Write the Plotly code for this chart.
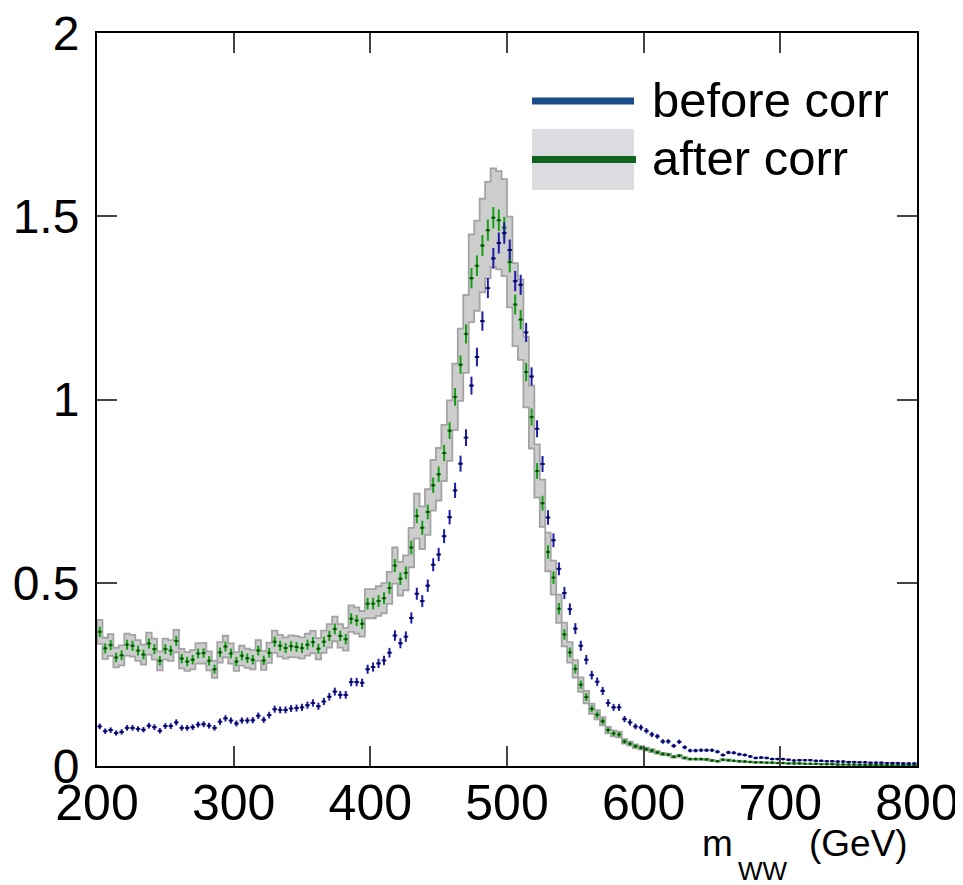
import numpy as np
import plotly.graph_objects as go

# m_WW binning: 150 bins of 4 GeV from 200 to 800
bin_edges = np.arange(200, 804, 4)
bin_centers = 0.5 * (bin_edges[:-1] + bin_edges[1:])

before_corr = [
    0.108, 0.095, 0.098, 0.090, 0.093, 0.104, 0.104, 0.101, 0.099, 0.110,
    0.106, 0.096, 0.109, 0.109, 0.119, 0.104, 0.104, 0.106, 0.113, 0.114,
    0.110, 0.104, 0.121, 0.130, 0.124, 0.116,
    0.124, 0.124, 0.125, 0.137, 0.126, 0.139, 0.155, 0.153, 0.153, 0.157,
    0.158, 0.160, 0.166, 0.172, 0.163, 0.176, 0.189, 0.203, 0.194, 0.194,
    0.229, 0.229, 0.227, 0.264,
    0.270, 0.280, 0.288, 0.309, 0.356, 0.335, 0.353, 0.404, 0.470, 0.450,
    0.492, 0.549, 0.577, 0.627, 0.679, 0.752, 0.825, 0.896, 1.038, 1.116,
    1.214, 1.304, 1.385,
    1.427, 1.454, 1.408, 1.323, 1.313, 1.183, 1.063, 0.920, 0.824, 0.678,
    0.616, 0.538, 0.472, 0.428, 0.375, 0.328, 0.290, 0.248, 0.230, 0.205,
    0.172, 0.160, 0.160, 0.128, 0.119, 0.108, 0.105,
    0.096, 0.086, 0.081, 0.067, 0.067, 0.055, 0.066, 0.051, 0.042, 0.042,
    0.043, 0.043, 0.043, 0.039, 0.030, 0.037, 0.036, 0.032, 0.030, 0.026,
    0.022, 0.023, 0.022, 0.019, 0.019, 0.019, 0.017, 0.015, 0.016, 0.016,
    0.016, 0.014, 0.014, 0.013, 0.013, 0.012, 0.012, 0.011, 0.011, 0.010,
    0.010, 0.009, 0.009, 0.009, 0.008, 0.008, 0.008, 0.007, 0.007, 0.007,
]

after_corr = [
    0.366, 0.321, 0.330, 0.296, 0.302, 0.331, 0.328, 0.315, 0.304, 0.334,
    0.319, 0.287, 0.319, 0.315, 0.341, 0.293, 0.285, 0.290, 0.307, 0.308,
    0.287, 0.264, 0.310, 0.326, 0.307, 0.285,
    0.301, 0.294, 0.290, 0.315, 0.288, 0.309, 0.339, 0.328, 0.322, 0.327,
    0.325, 0.322, 0.331, 0.338, 0.320, 0.339, 0.355, 0.374, 0.355, 0.346,
    0.402, 0.397, 0.388, 0.443,
    0.443, 0.450, 0.458, 0.486, 0.547, 0.511, 0.527, 0.596, 0.682, 0.650,
    0.693, 0.766, 0.796, 0.854, 0.915, 1.007, 1.095, 1.179, 1.331, 1.365,
    1.420, 1.462, 1.496, 1.489, 1.469, 1.375,
    1.259, 1.218, 1.075, 0.952, 0.805, 0.717, 0.584, 0.514, 0.429, 0.359,
    0.310, 0.265, 0.222, 0.188, 0.156, 0.140, 0.122, 0.098, 0.089, 0.086,
    0.067, 0.061, 0.054, 0.050,
    0.046, 0.042, 0.037, 0.033, 0.031, 0.025, 0.028, 0.022, 0.019, 0.019,
    0.019, 0.018, 0.015, 0.013, 0.017, 0.016, 0.014, 0.013, 0.012, 0.011,
    0.010, 0.010, 0.009, 0.009, 0.008, 0.008, 0.007, 0.007, 0.007, 0.006,
    0.006, 0.006, 0.005, 0.005, 0.005, 0.004, 0.004, 0.004, 0.004, 0.003,
    0.003, 0.003, 0.003, 0.003, 0.002, 0.002, 0.002, 0.002, 0.002, 0.002,
]

BAND_REL = 0.09     # relative size of the systematic band on "after corr"
STAT_SCALE = 0.024  # stat error ~ STAT_SCALE * sqrt(y)

x_ticks = [200, 300, 400, 500, 600, 700, 800]
y_ticks = [0, 0.5, 1, 1.5, 2]
y_ticklabels = ["0", "0.5", "1", "1.5", "2"]

before = np.array(before_corr)
after = np.array(after_corr)

# stepped band outline: upper edge left->right, lower edge right->left
band_hi = after * (1 + BAND_REL)
band_lo = after * (1 - BAND_REL)
bx, by = [], []
for i in range(len(after)):
    bx += [bin_edges[i], bin_edges[i + 1]]
    by += [band_hi[i], band_hi[i]]
for i in reversed(range(len(after))):
    bx += [bin_edges[i + 1], bin_edges[i]]
    by += [band_lo[i], band_lo[i]]
bx.append(bx[0])
by.append(by[0])

FONT = "Liberation Sans, Arial, Helvetica, sans-serif"
BLUE = "#1c1ca8"
GREEN = "#14a014"

fig = go.Figure()

fig.add_trace(go.Scatter(
    x=bx, y=by, mode="lines", fill="toself",
    fillcolor="#cdcdcd", line=dict(color="#a3a3a3", width=1.8),
    hoverinfo="skip", showlegend=False,
))

fig.add_trace(go.Scatter(
    x=bin_centers, y=after, mode="markers",
    marker=dict(color="#0a3a0a", size=2.5),
    error_x=dict(type="constant", value=1.7, color=GREEN, thickness=2, width=0),
    error_y=dict(type="data", array=STAT_SCALE * np.sqrt(after), color=GREEN, thickness=2, width=0),
    showlegend=False,
))

fig.add_trace(go.Scatter(
    x=bin_centers, y=before, mode="markers",
    marker=dict(color="#000040", size=2.5),
    error_x=dict(type="constant", value=1.7, color=BLUE, thickness=2, width=0),
    error_y=dict(type="data", array=STAT_SCALE * np.sqrt(before), color=BLUE, thickness=2, width=0),
    showlegend=False,
))

# the page body adds 8px around the figure; plot area wanted at page px 97..917 x 33..766
OFF = 8
L, R, T, B = 97, 917, 33, 766
W, H = 963 - OFF, 885 - OFF
def px(xp):
    return (xp - L) / (R - L)
def py(yp):
    return (B - yp) / (B - T)

shapes = [
    dict(type="rect", xref="paper", yref="paper", x0=px(532), x1=px(634), y0=py(190), y1=py(129),
         fillcolor="#dcdde0", line=dict(width=0), layer="above"),
    dict(type="line", xref="paper", yref="paper", x0=px(532), x1=px(634), y0=py(101), y1=py(101),
         line=dict(color="#1a4d8a", width=7), layer="above"),
    dict(type="line", xref="paper", yref="paper", x0=px(532), x1=px(636), y0=py(159.5), y1=py(159.5),
         line=dict(color="#10641e", width=7), layer="above"),
]

annotations = [
    dict(text="before corr", x=px(650), y=py(100), xref="paper", yref="paper",
         xanchor="left", yanchor="middle", showarrow=False, font=dict(size=49, color="black", family=FONT)),
    dict(text="after corr", x=px(650), y=py(158), xref="paper", yref="paper",
         xanchor="left", yanchor="middle", showarrow=False, font=dict(size=49, color="black", family=FONT)),
    dict(text="m", x=px(700), y=py(843), xref="paper", yref="paper",
         xanchor="left", yanchor="middle", showarrow=False, font=dict(size=37, color="black", family=FONT)),
    dict(text="WW", x=px(736), y=py(871), xref="paper", yref="paper",
         xanchor="left", yanchor="middle", showarrow=False, font=dict(size=26, color="black", family=FONT)),
    dict(text="(GeV)", x=px(910), y=py(843), xref="paper", yref="paper",
         xanchor="right", yanchor="middle", showarrow=False, font=dict(size=37, color="black", family=FONT)),
]

fig.update_layout(
    width=W, height=H,
    margin=dict(l=L - OFF, r=W - (R - OFF), t=T - OFF, b=H - (B - OFF), autoexpand=False),
    paper_bgcolor="white", plot_bgcolor="white",
    shapes=shapes, annotations=annotations,
    font=dict(family=FONT, color="black"),
    xaxis=dict(
        range=[200, 800], tickvals=x_ticks, ticks="inside", ticklen=20, tickwidth=2,
        showline=True, linecolor="black", linewidth=2, mirror="ticks", automargin=False,
        showgrid=False, zeroline=False, tickfont=dict(size=50), ticklabelstandoff=-8,
        ticklabeloverflow="allow",
    ),
    yaxis=dict(
        range=[0, 2], tickvals=y_ticks, ticktext=y_ticklabels, ticks="inside", ticklen=20, tickwidth=2,
        showline=True, linecolor="black", linewidth=2, mirror="ticks", automargin=False,
        showgrid=False, zeroline=False, tickfont=dict(size=48), ticklabelstandoff=6,
        ticklabeloverflow="allow",
    ),
)

fig.write_html("out.html")
